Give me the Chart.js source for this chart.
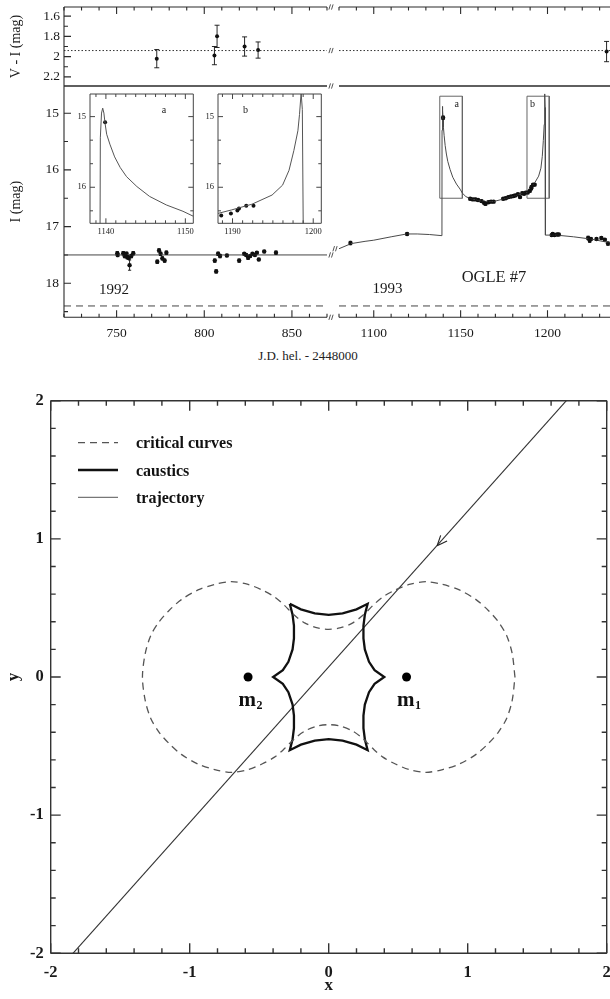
<!DOCTYPE html>
<html>
<head>
<meta charset="utf-8">
<title>OGLE #7 light curve and lens geometry</title>
<script src="https://cdn.jsdelivr.net/npm/chart.js@4.4.1/dist/chart.umd.min.js"></script>
<style>
  html, body { margin: 0; padding: 0; background: #fff; }
  body { width: 610px; height: 999px; overflow: hidden; position: relative; }
  canvas { position: absolute; }
  #jdTitle { position: absolute; left: 0; width: 616px; top: 348px; line-height: 16px;
             text-align: center; font: 13px 'Liberation Serif', serif; color: #222; }
</style>
</head>
<body>
<canvas id="viLeft"  width="340" height="90"  style="left:0;top:0"></canvas>
<canvas id="viRight" width="300" height="90"  style="left:330px;top:0"></canvas>
<canvas id="iLeft"   width="340" height="260" style="left:0;top:80px"></canvas>
<canvas id="iRight"  width="300" height="260" style="left:330px;top:80px"></canvas>
<canvas id="insetA"  width="130" height="150" style="left:70px;top:90px"></canvas>
<canvas id="insetB"  width="130" height="150" style="left:198.3px;top:90px"></canvas>
<canvas id="lens"    width="620" height="619" style="left:0;top:380px"></canvas>
<div id="jdTitle">J.D. hel. - 2448000</div>
<script>
// ---------------- photometry: 1992 season (I band) ----------------
const jd1992  = [750.4, 750.6, 753.8, 754.6, 755.7, 756.1, 757.0, 757.4, 758.4, 759.5,
                 773.2, 774.2, 775.1, 776.1, 777.4, 778.4,
                 806.0, 806.8, 807.9, 809.0, 812.9, 819.9, 822.8, 823.9, 825.0, 826.2,
                 827.5, 828.9, 830.0, 831.1, 834.2, 840.9];
const mag1992 = [17.47, 17.50, 17.47, 17.52, 17.48, 17.54, 17.55, 17.68, 17.52, 17.47,
                 17.62, 17.42, 17.48, 17.56, 17.60, 17.46,
                 17.60, 17.79, 17.48, 17.52, 17.51, 17.60, 17.48, 17.50, 17.55, 17.52,
                 17.48, 17.50, 17.46, 17.58, 17.44, 17.46];
const err1992 = [0.03, 0.03, 0.03, 0.03, 0.03, 0.03, 0.03, 0.09, 0.03, 0.03,
                 0.03, 0.03, 0.03, 0.03, 0.03, 0.03,
                 0.03, 0.03, 0.03, 0.03, 0.02, 0.03, 0.02, 0.02, 0.03, 0.02,
                 0.02, 0.02, 0.02, 0.02, 0.02, 0.03];

// ---------------- photometry: 1993 season (I band) ----------------
const jd1993  = [1086.6, 1119.2, 1139.9,
                 1155.5, 1157.0, 1158.5, 1160.0, 1162.0, 1163.5, 1164.3, 1166.0, 1167.5, 1169.0,
                 1174.5, 1176.0, 1177.5, 1179.0, 1180.5, 1181.5, 1183.0, 1184.2, 1185.5, 1186.5,
                 1187.5, 1188.6, 1189.8, 1190.6, 1190.8, 1191.7, 1192.6,
                 1202.4, 1203.0, 1204.0, 1205.5, 1206.5,
                 1223.4, 1224.3, 1225.0, 1228.2, 1231.0, 1233.0, 1234.8];
const mag1993 = [17.29, 17.13, 15.08,
                 16.51, 16.52, 16.52, 16.53, 16.55, 16.58, 16.60, 16.57, 16.56, 16.56,
                 16.51, 16.50, 16.48, 16.47, 16.46, 16.45, 16.43, 16.48, 16.41, 16.42,
                 16.40, 16.40, 16.37, 16.33, 16.30, 16.26, 16.26,
                 17.15, 17.13, 17.15, 17.14, 17.14,
                 17.20, 17.24, 17.22, 17.22, 17.20, 17.23, 17.30];
const err1993 = [0.03, 0.02, 0.03,
                 0.02, 0.02, 0.02, 0.02, 0.02, 0.02, 0.02, 0.02, 0.02, 0.02,
                 0.02, 0.02, 0.02, 0.02, 0.02, 0.02, 0.02, 0.02, 0.02, 0.02,
                 0.02, 0.02, 0.02, 0.02, 0.02, 0.02, 0.02,
                 0.02, 0.02, 0.02, 0.02, 0.02,
                 0.03, 0.04, 0.02, 0.02, 0.02, 0.02, 0.03];

// ---------------- binary-lens model light curve, 1993 ----------------
const modelJD  = [1080, 1087, 1095, 1100, 1110, 1119, 1125, 1132, 1139.25,
                  1139.3, 1139.45, 1139.6, 1139.75, 1139.9, 1140.1, 1140.5, 1141.1, 1141.8,
                  1142.6, 1143.9, 1145.5, 1147.6, 1149.7, 1151, 1153, 1155, 1160, 1165,
                  1170, 1175, 1180, 1185, 1188.2, 1189.9, 1192.4, 1194.9, 1196.2, 1197.0,
                  1197.6, 1198.1, 1198.3, 1198.5, 1198.65, 1198.8, 1205, 1215, 1225, 1240];
const modelMag = [17.39, 17.30, 17.26, 17.24, 17.18, 17.13, 17.13, 17.14, 17.16,
                  15.30, 14.95, 14.88, 14.95, 15.10, 15.25, 15.39, 15.57, 15.72,
                  15.85, 15.99, 16.13, 16.25, 16.34, 16.41, 16.47, 16.50, 16.54, 16.56,
                  16.55, 16.51, 16.47, 16.42, 16.37, 16.32, 16.24, 16.11, 15.97, 15.76,
                  15.48, 15.20, 14.97, 14.66, 14.90, 17.15, 17.15, 17.18, 17.22, 17.31];

// ---------------- V - I colours ----------------
const viJD  = [772.9, 805.8, 807.3, 823.0, 830.7, 1234];
const viMag = [2.02, 1.99, 1.80, 1.90, 1.935, 1.95];
const viErr = [0.09, 0.09, 0.11, 0.095, 0.08, 0.10];
const viMean = 1.94;

// reference levels
const baseline1992 = 17.5;
const blendLevel = 18.40;

// axis tick labels
const viTickLabels   = [1.6, 1.8, 2, 2.2];
const iTickLabels    = [15, 16, 17, 18];
const jdTicks1992    = [750, 800, 850];
const jdTicks1993    = [1100, 1150, 1200];
const insetATicks    = [1140, 1150];
const insetBTicks    = [1190, 1200];
const insetMagTicks  = [15, 16];
const lensTicks      = [-2, -1, 0, 1, 2];

// zoom windows around the two caustic crossings
const windowA = [1138, 1151, 14.7, 16.5];
const windowB = [1188.2, 1201, 14.7, 16.5];

// ---------------- lens plane ----------------
const critX = [1.34, 1.32, 1.28, 1.22, 1.15, 1.06, 0.94, 0.82, 0.70, 0.58, 0.48, 0.39, 0.32, 0.25, 0.17, 0.08, 0.00,
               -0.08, -0.17, -0.25, -0.32, -0.39, -0.48, -0.58, -0.70, -0.82, -0.94, -1.06, -1.15, -1.22, -1.28, -1.32, -1.34,
               -1.32, -1.28, -1.22, -1.15, -1.06, -0.94, -0.82, -0.70, -0.58, -0.48, -0.39, -0.32, -0.25, -0.17, -0.08, 0.00,
               0.08, 0.17, 0.25, 0.32, 0.39, 0.48, 0.58, 0.70, 0.82, 0.94, 1.06, 1.15, 1.22, 1.28, 1.32, 1.34];
const critY = [0.00, 0.17, 0.30, 0.40, 0.48, 0.56, 0.63, 0.67, 0.69, 0.67, 0.63, 0.58, 0.52, 0.45, 0.39, 0.355, 0.345,
               0.355, 0.39, 0.45, 0.52, 0.58, 0.63, 0.67, 0.69, 0.67, 0.63, 0.56, 0.48, 0.40, 0.30, 0.17, 0.00,
               -0.17, -0.30, -0.40, -0.48, -0.56, -0.63, -0.67, -0.69, -0.67, -0.63, -0.58, -0.52, -0.45, -0.39, -0.355, -0.345,
               -0.355, -0.39, -0.45, -0.52, -0.58, -0.63, -0.67, -0.69, -0.67, -0.63, -0.56, -0.48, -0.40, -0.30, -0.17, 0.00];
const causticX = [-0.28, -0.20, -0.10, 0.00, 0.10, 0.20, 0.28,
                  0.26, 0.25, 0.25, 0.26, 0.29, 0.33, 0.40,
                  0.33, 0.29, 0.26, 0.25, 0.25, 0.26, 0.28,
                  0.20, 0.10, 0.00, -0.10, -0.20, -0.28,
                  -0.26, -0.25, -0.25, -0.26, -0.29, -0.33, -0.40,
                  -0.33, -0.29, -0.26, -0.25, -0.25, -0.26, -0.28];
const causticY = [0.53, 0.49, 0.46, 0.45, 0.46, 0.49, 0.53,
                  0.45, 0.37, 0.28, 0.20, 0.11, 0.05, 0.00,
                  -0.05, -0.11, -0.20, -0.28, -0.37, -0.45, -0.53,
                  -0.49, -0.46, -0.45, -0.46, -0.49, -0.53,
                  -0.45, -0.37, -0.28, -0.20, -0.11, -0.05, 0.00,
                  0.05, 0.11, 0.20, 0.28, 0.37, 0.45, 0.53];
const trajX = [1.71, -1.84];
const trajY = [2.0, -2.0];
const arrowAt = [0.78, 0.95];
const massX = [0.56, -0.58];
const massY = [0, 0];
const massIndex = ['1', '2'];
const legendNames = ['critical curves', 'caustics', 'trajectory'];

// ---------------- helpers ----------------
const SERIF = "'Liberation Serif', 'Times New Roman', serif";
const pts = (xs, ys) => xs.map((v, i) => ({ x: v, y: ys[i] }));
const rect = w => [{ x: w[0], y: w[2] }, { x: w[1], y: w[2] }, { x: w[1], y: w[3] },
                   { x: w[0], y: w[3] }, { x: w[0], y: w[2] }];

function axis(o) {
  const a = {
    type: 'linear', min: o.min, max: o.max, reverse: !!o.reverse,
    display: !!o.labels,
    grid: { display: false, drawTicks: false },
    border: { display: false }
  };
  if (o.labels) {
    a.afterBuildTicks = s => { s.ticks = o.labels.map(v => ({ value: v })); };
    // fixed axis thickness; edge labels may overhang the plot box
    a.afterFit = s => {
      if (o.horizontal) s.height = o.size; else s.width = o.size;
      s.paddingLeft = s.paddingRight = s.paddingTop = s.paddingBottom = 0;
    };
    a.ticks = { font: o.font, color: '#1a1a1a', padding: o.pad, maxRotation: 0, minRotation: 0,
                autoSkip: false, callback: v => String(v) };
    if (o.title) {
      a.title = { display: true, text: o.title, font: o.titleFont || o.font, color: '#1a1a1a',
                  padding: o.titlePad || 0 };
    }
  }
  return a;
}

function options(padding, scales, plugins) {
  return {
    responsive: false, animation: false, devicePixelRatio: 1,
    layout: { padding },
    plugins: Object.assign({ legend: { display: false }, tooltip: { enabled: false } }, plugins),
    scales
  };
}

// box frame, inward tick marks and axis-break marks
const framePlugin = {
  id: 'frame',
  afterDatasetsDraw(chart, args, o) {
    if (!o || !o.sides) return;
    const { ctx, chartArea: A, scales } = chart;
    const xs = scales.x, ys = scales.y;
    ctx.save();
    ctx.strokeStyle = o.color || '#222';
    ctx.lineWidth = o.width || 1;
    ctx.beginPath();
    const s = o.sides;
    if (s.includes('left'))   { ctx.moveTo(A.left, A.top);    ctx.lineTo(A.left, A.bottom); }
    if (s.includes('right'))  { ctx.moveTo(A.right, A.top);   ctx.lineTo(A.right, A.bottom); }
    if (s.includes('top'))    { ctx.moveTo(A.left, A.top);    ctx.lineTo(A.right, A.top); }
    if (s.includes('bottom')) { ctx.moveTo(A.left, A.bottom); ctx.lineTo(A.right, A.bottom); }
    ctx.stroke();
    ctx.beginPath();
    (o.ticks || []).forEach(t => {
      const sc = t.axis === 'x' ? xs : ys;
      const lo = Math.min(sc.min, sc.max), hi = Math.max(sc.min, sc.max);
      const k0 = Math.ceil(lo / t.minor - 1e-6);
      for (let k = k0; k * t.minor <= hi + 1e-6; k++) {
        const v = k * t.minor;
        const r = v / t.major;
        const len = Math.abs(r - Math.round(r)) < 1e-6 ? t.majorLen : t.minorLen;
        const p = sc.getPixelForValue(v);
        t.sides.forEach(side => {
          if (side === 'top')    { ctx.moveTo(p, A.top);    ctx.lineTo(p, A.top + len); }
          if (side === 'bottom') { ctx.moveTo(p, A.bottom); ctx.lineTo(p, A.bottom - len); }
          if (side === 'left')   { ctx.moveTo(A.left, p);   ctx.lineTo(A.left + len, p); }
          if (side === 'right')  { ctx.moveTo(A.right, p);  ctx.lineTo(A.right - len, p); }
        });
      }
    });
    ctx.stroke();
    if (o.breaks) {
      const bx = o.breaks.side === 'left' ? A.left - o.breaks.gap : A.right + o.breaks.gap;
      ctx.lineWidth = 0.8;
      ctx.beginPath();
      o.breaks.at.forEach(v => {
        const py = v === 'top' ? A.top : v === 'bottom' ? A.bottom : ys.getPixelForValue(v);
        for (const dx of [-1.3, 1.3]) {
          ctx.moveTo(bx + dx - 0.8, py + 2.6);
          ctx.lineTo(bx + dx + 0.8, py - 2.6);
        }
      });
      ctx.stroke();
    }
    ctx.restore();
  }
};

// vertical error bars for datasets carrying an errorBars list
const errorBarPlugin = {
  id: 'errorBars',
  afterDatasetsDraw(chart) {
    const { ctx, chartArea: A, scales: { y } } = chart;
    chart.data.datasets.forEach((ds, i) => {
      if (!ds.errorBars) return;
      const meta = chart.getDatasetMeta(i);
      ctx.save();
      ctx.beginPath();
      ctx.rect(A.left, A.top, A.right - A.left, A.bottom - A.top);
      ctx.clip();
      ctx.strokeStyle = '#111';
      ctx.lineWidth = 0.9;
      ctx.beginPath();
      meta.data.forEach((pt, j) => {
        const e = ds.errorBars[j], v = ds.data[j].y, c = ds.capHalf;
        const y0 = y.getPixelForValue(v - e), y1 = y.getPixelForValue(v + e);
        ctx.moveTo(pt.x, y0); ctx.lineTo(pt.x, y1);
        ctx.moveTo(pt.x - c, y0); ctx.lineTo(pt.x + c, y0);
        ctx.moveTo(pt.x - c, y1); ctx.lineTo(pt.x + c, y1);
      });
      ctx.stroke();
      ctx.restore();
    });
  }
};

// text placed at data coordinates
const notesPlugin = {
  id: 'notes',
  afterDatasetsDraw(chart, args, o) {
    if (!o || !o.items) return;
    const { ctx, scales: { x, y } } = chart;
    ctx.save();
    o.items.forEach(n => {
      ctx.font = n.font;
      ctx.fillStyle = '#1a1a1a';
      ctx.textAlign = 'center';
      ctx.textBaseline = 'middle';
      ctx.fillText(n.text, x.getPixelForValue(n.x), y.getPixelForValue(n.y));
    });
    ctx.restore();
  }
};

// lens plane: direction arrow, mass labels and key
const lensDecor = {
  id: 'lensDecor',
  afterDatasetsDraw(chart, args, o) {
    if (!o || !o.on) return;
    const { ctx, chartArea: A, scales: { x, y } } = chart;
    ctx.save();
    const tx = x.getPixelForValue(arrowAt[0]), ty = y.getPixelForValue(arrowAt[1]);
    const dx = x.getPixelForValue(trajX[1]) - x.getPixelForValue(trajX[0]);
    const dy = y.getPixelForValue(trajY[1]) - y.getPixelForValue(trajY[0]);
    const ang = Math.atan2(dy, dx);
    ctx.strokeStyle = '#222';
    ctx.lineWidth = 1.1;
    ctx.beginPath();
    for (const sg of [-1, 1]) {
      const a = ang + Math.PI + sg * 0.4;
      ctx.moveTo(tx, ty);
      ctx.lineTo(tx + 11 * Math.cos(a), ty + 11 * Math.sin(a));
    }
    ctx.stroke();

    ctx.fillStyle = '#111';
    ctx.textBaseline = 'alphabetic';
    ctx.textAlign = 'left';
    massX.forEach((mx, i) => {
      const px = x.getPixelForValue(mx) - 9.5, py = y.getPixelForValue(massY[i]) + 29;
      ctx.font = 'bold 21px ' + SERIF;
      ctx.fillText('m', px, py);
      const w = ctx.measureText('m').width;
      ctx.font = 'bold 12px ' + SERIF;
      ctx.fillText(massIndex[i], px + w + 0.5, py + 3);
    });

    const x0 = A.left + 27.3, x1 = A.left + 67.3, tx0 = A.left + 85.3;
    const rows = [A.top + 42, A.top + 69.3, A.top + 96.6];
    const styles = [
      { dash: [7, 5], width: 1.2, color: '#555' },
      { dash: [], width: 2.6, color: '#111' },
      { dash: [], width: 1.3, color: '#777' }
    ];
    rows.forEach((ry, i) => {
      ctx.setLineDash(styles[i].dash);
      ctx.lineWidth = styles[i].width;
      ctx.strokeStyle = styles[i].color;
      ctx.beginPath();
      ctx.moveTo(x0, ry); ctx.lineTo(x1, ry);
      ctx.stroke();
      ctx.setLineDash([]);
      ctx.font = 'bold 16px ' + SERIF;
      ctx.fillStyle = '#111';
      ctx.fillText(legendNames[i], tx0, ry + 5.5);
    });
    ctx.restore();
  }
};

Chart.register(framePlugin, errorBarPlugin, notesPlugin, lensDecor);

const TOPFRAME = '#2a2a2a';
const tickFont = { family: SERIF, size: 13.5 };
const titleFont = { family: SERIF, size: 14 };
const insetFont = { family: SERIF, size: 8.5 };

// ---------------- V - I panel, 1992 ----------------
new Chart(document.getElementById('viLeft'), {
  type: 'scatter',
  data: { datasets: [
    { data: [{ x: 720, y: viMean }, { x: 870, y: viMean }], showLine: true, borderColor: '#333',
      borderWidth: 1, borderDash: [1.5, 2], pointRadius: 0 },
    { data: pts(viJD, viMag), pointRadius: 2, backgroundColor: '#111', borderWidth: 0,
      errorBars: viErr, capHalf: 2.5 }
  ] },
  options: options({ left: 0, top: 7, right: 13, bottom: 4 }, {
    x: axis({ min: 720, max: 870 }),
    y: axis({ min: 1.51, max: 2.29, reverse: true, labels: viTickLabels, size: 64, font: tickFont,
              pad: 4, title: 'V - I (mag)', titleFont, titlePad: { top: 8 } })
  }, {
    frame: { sides: ['left', 'top', 'bottom'], color: TOPFRAME, width: 1.1,
             ticks: [{ axis: 'x', sides: ['top'], minor: 10, major: 50, minorLen: 3.5, majorLen: 7 },
                     { axis: 'y', sides: ['left'], minor: 0.1, major: 0.2, minorLen: 4, majorLen: 7 }],
             breaks: { side: 'right', gap: 4, at: ['top', viMean, 'bottom'] } }
  })
});

// ---------------- V - I panel, 1993 ----------------
new Chart(document.getElementById('viRight'), {
  type: 'scatter',
  data: { datasets: [
    { data: [{ x: 1080, y: viMean }, { x: 1240, y: viMean }], showLine: true, borderColor: '#333',
      borderWidth: 1, borderDash: [1.5, 2], pointRadius: 0 },
    { data: pts(viJD, viMag), pointRadius: 2, backgroundColor: '#111', borderWidth: 0,
      errorBars: viErr, capHalf: 2.5 }
  ] },
  options: options({ left: 9, top: 7, right: 13, bottom: 4 }, {
    x: axis({ min: 1080, max: 1240 }),
    y: axis({ min: 1.51, max: 2.29, reverse: true })
  }, {
    frame: { sides: ['right', 'top', 'bottom'], color: TOPFRAME, width: 1.1,
             ticks: [{ axis: 'x', sides: ['top'], minor: 10, major: 50, minorLen: 3.5, majorLen: 7 },
                     { axis: 'y', sides: ['right'], minor: 0.1, major: 0.2, minorLen: 4, majorLen: 7 }] }
  })
});

// ---------------- I panel, 1992 ----------------
new Chart(document.getElementById('iLeft'), {
  type: 'scatter',
  data: { datasets: [
    { data: [{ x: 720, y: baseline1992 }, { x: 870, y: baseline1992 }], showLine: true,
      borderColor: '#444', borderWidth: 1, pointRadius: 0 },
    { data: [{ x: 720, y: blendLevel }, { x: 870, y: blendLevel }], showLine: true,
      borderColor: '#444', borderWidth: 1, borderDash: [7, 5], pointRadius: 0 },
    { data: pts(jd1992, mag1992), pointRadius: 2.2, backgroundColor: '#111', borderWidth: 0,
      errorBars: err1992, capHalf: 1.6 }
  ] },
  options: options({ left: 0, top: 6, right: 13, bottom: 0 }, {
    x: axis({ min: 720, max: 870, horizontal: true, labels: jdTicks1992, size: 22.7, font: tickFont, pad: 8 }),
    y: axis({ min: 14.52, max: 18.6, reverse: true, labels: iTickLabels, size: 64, font: tickFont,
              pad: 5, title: 'I (mag)', titleFont, titlePad: { top: 8 } })
  }, {
    frame: { sides: ['left', 'top', 'bottom'], color: TOPFRAME, width: 1.1,
             ticks: [{ axis: 'x', sides: ['bottom'], minor: 10, major: 50, minorLen: 3.5, majorLen: 7 },
                     { axis: 'y', sides: ['left'], minor: 0.5, major: 1, minorLen: 4, majorLen: 7 }],
             breaks: { side: 'right', gap: 4, at: [baseline1992, 'bottom'] } },
    notes: { items: [{ text: '1992', x: 748.5, y: 18.12, font: '15px ' + SERIF }] }
  })
});

// ---------------- I panel, 1993 ----------------
new Chart(document.getElementById('iRight'), {
  type: 'scatter',
  data: { datasets: [
    { data: pts(modelJD, modelMag), showLine: true, borderColor: '#4a4a4a', borderWidth: 1,
      pointRadius: 0, tension: 0 },
    { data: [{ x: 1080, y: blendLevel }, { x: 1240, y: blendLevel }], showLine: true,
      borderColor: '#444', borderWidth: 1, borderDash: [7, 5], pointRadius: 0 },
    { data: rect(windowA), showLine: true, borderColor: '#666', borderWidth: 1, pointRadius: 0 },
    { data: rect(windowB), showLine: true, borderColor: '#666', borderWidth: 1, pointRadius: 0 },
    { data: pts(jd1993, mag1993), pointRadius: 2.2, backgroundColor: '#111', borderWidth: 0,
      errorBars: err1993, capHalf: 1.6 }
  ] },
  options: options({ left: 9, top: 6, right: 13, bottom: 0 }, {
    x: axis({ min: 1080, max: 1240, horizontal: true, labels: jdTicks1993, size: 22.7, font: tickFont, pad: 8 }),
    y: axis({ min: 14.52, max: 18.6, reverse: true })
  }, {
    frame: { sides: ['right', 'top', 'bottom'], color: TOPFRAME, width: 1.1,
             ticks: [{ axis: 'x', sides: ['bottom'], minor: 10, major: 50, minorLen: 3.5, majorLen: 7 },
                     { axis: 'y', sides: ['right'], minor: 0.5, major: 1, minorLen: 4, majorLen: 7 }],
             breaks: { side: 'left', gap: 4, at: [modelMag[0]] } },
    notes: { items: [
      { text: '1993', x: 1107.9, y: 18.1, font: '15px ' + SERIF },
      { text: 'OGLE #7', x: 1169.2, y: 17.9, font: '16.5px ' + SERIF },
      { text: 'a', x: 1147.7, y: 14.84, font: '10px ' + SERIF },
      { text: 'b', x: 1191.3, y: 14.84, font: '10px ' + SERIF }
    ] }
  })
});

// ---------------- close-ups of the two caustic crossings ----------------
function inset(id, win, ticks, tag, tagX) {
  return new Chart(document.getElementById(id), {
    type: 'scatter',
    data: { datasets: [
      { data: pts(modelJD, modelMag), showLine: true, borderColor: '#555', borderWidth: 1,
        pointRadius: 0, tension: 0, clip: 0 },
      { data: pts(jd1993, mag1993), pointRadius: 2, backgroundColor: '#111', borderWidth: 0, clip: 0 }
    ] },
    options: options({ left: 0, top: 4, right: 6.7, bottom: 0 }, {
      x: axis({ min: win[0], max: win[1], horizontal: true, labels: ticks, size: 16.7, font: insetFont, pad: 3.6 }),
      y: axis({ min: win[2] - 0.02, max: win[3] + 0.01, reverse: true, labels: insetMagTicks, size: 20,
                font: insetFont, pad: 4 })
    }, {
      frame: { sides: ['left', 'top', 'bottom', 'right'], color: '#444', width: 1,
               ticks: [{ axis: 'x', sides: ['top', 'bottom'], minor: 1.25, major: 10, minorLen: 3, majorLen: 5 },
                       { axis: 'y', sides: ['left', 'right'], minor: 1 / 3, major: 1, minorLen: 3, majorLen: 5 }] },
      notes: { items: [{ text: tag, x: tagX, y: 14.91, font: '10px ' + SERIF }] }
    })
  });
}
inset('insetA', windowA, insetATicks, 'a', 1147.3);
inset('insetB', windowB, insetBTicks, 'b', 1191.6);

// ---------------- lens plane ----------------
const lensFont = { family: SERIF, size: 16.5, weight: 'bold' };
new Chart(document.getElementById('lens'), {
  type: 'scatter',
  data: { datasets: [
    { data: pts(critX, critY), showLine: true, borderColor: '#555', borderWidth: 1.3,
      borderDash: [7, 5], pointRadius: 0, tension: 0.3 },
    { data: pts(causticX, causticY), showLine: true, borderColor: '#111', borderWidth: 2.3,
      pointRadius: 0, tension: 0 },
    { data: pts(trajX, trajY), showLine: true, borderColor: '#333', borderWidth: 1.1, pointRadius: 0 },
    { data: pts(massX, massY), pointRadius: 4.5, backgroundColor: '#000', borderWidth: 0 }
  ] },
  options: options({ left: 0, top: 20.7, right: 13.3, bottom: 0 }, {
    x: axis({ min: -2, max: 2, horizontal: true, labels: lensTicks, size: 45.7, font: lensFont, pad: 10,
              title: 'x', titleFont: { family: SERIF, size: 17, weight: 'bold' }, titlePad: { top: 0, bottom: 3 } }),
    y: axis({ min: -2, max: 2, labels: lensTicks, size: 50.7, font: lensFont, pad: 7,
              title: 'y', titleFont: { family: SERIF, size: 17, weight: 'bold' }, titlePad: { top: 3 } })
  }, {
    frame: { sides: ['left', 'top', 'bottom', 'right'], color: '#333', width: 1.4,
             ticks: [{ axis: 'x', sides: ['top', 'bottom'], minor: 0.2, major: 1, minorLen: 5, majorLen: 10 },
                     { axis: 'y', sides: ['left', 'right'], minor: 0.2, major: 1, minorLen: 5, majorLen: 10 }] },
    lensDecor: { on: true }
  })
});
</script>
</body>
</html>
